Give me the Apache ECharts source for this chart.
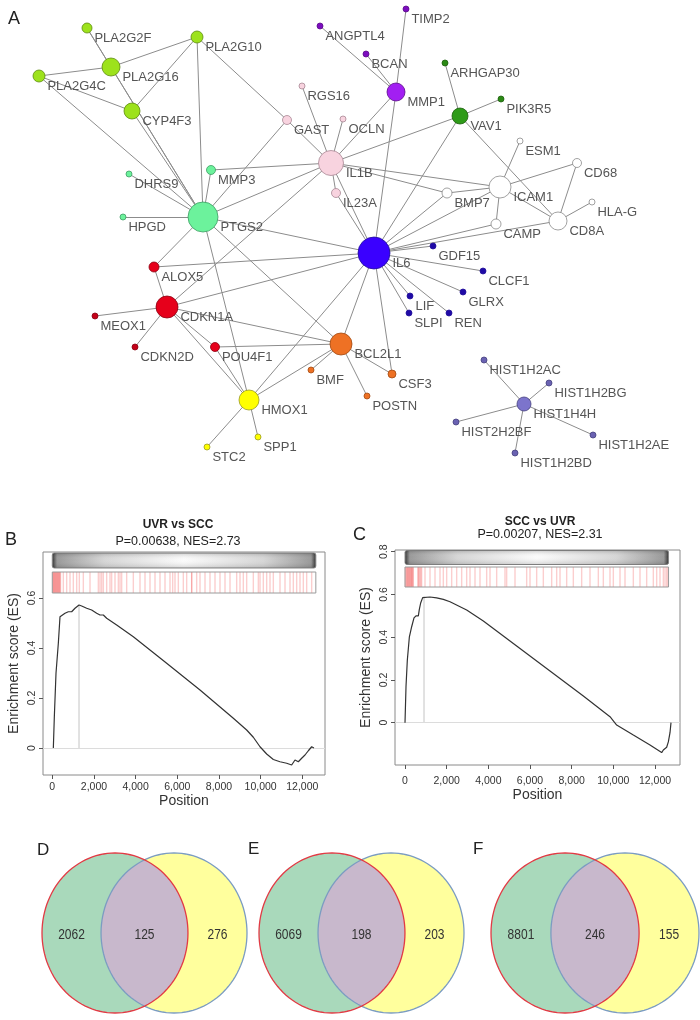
<!DOCTYPE html>
<html><head><meta charset="utf-8">
<script src="https://cdn.jsdelivr.net/npm/echarts@6/dist/echarts.min.js"></script>
<style>html,body{margin:0;padding:0;background:#fff}#c{width:700px;height:1020px}</style>
</head><body><div id="c"></div>
<script>
// ===== Panel A: network (node layout) =====
const nodeNames = ['PLA2G2F','PLA2G10','PLA2G16','PLA2G4C','CYP4F3','DHRS9','MMP3','HPGD','PTGS2',
 'RGS16','GAST','OCLN','IL1B','IL23A','TIMP2','ANGPTL4','BCAN','MMP1','ARHGAP30','PIK3R5','VAV1',
 'ESM1','CD68','ICAM1','BMP7','HLA-G','CD8A','CAMP','IL6','GDF15','CLCF1','GLRX','LIF','SLPI','REN',
 'ALOX5','CDKN1A','MEOX1','CDKN2D','POU4F1','BCL2L1','CSF3','POSTN','BMF','HMOX1','STC2','SPP1',
 'HIST1H4H','HIST1H2AC','HIST1H2BG','HIST2H2BF','HIST1H2AE','HIST1H2BD'];
const nodeX = [87,197,111,39,132,129,211,123,203, 302,287,343,331,336,406,320,366,396,445,501,460,
 520,577,500,447,592,558,496,374,433,483,463,410,409,449, 154,167,95,135,215,341,392,367,311,249,207,258,
 524,484,549,456,593,515];
const nodeY = [28,37,67,76,111,174,170,217,217, 86,120,119,163,193,9,26,54,92,63,99,116,
 141,163,187,193,202,221,224,253,246,271,292,296,313,313, 267,307,316,347,347,344,374,396,370,400,447,437,
 404,360,383,422,435,453];
const nodeSize = [10,12,18,12,16,6,9,6,30, 6,9,6,25,9,6,6,6,18,6,6,16,
 6,9,22,10,6,18,10,32,6,6,6,6,6,6, 10,22,6,6,9,22,8,6,6,20,6,6, 14,6,6,6,6,6];
const nodeModule = ['pla','pla','pla','pla','pla','ptg','ptg','ptg','ptg',
 'il1b','il1b','il1b','il1b','il1b','mmp','mmp','mmp','mmp','vav','vav','vav',
 'icam','icam','icam','icam','icam','icam','icam','il6','il6','il6','il6','il6','il6','il6',
 'cdk','cdk','cdk','cdk','cdk','bcl','bcl','bcl','bcl','hmox','hmox','hmox',
 'hist','hist','hist','hist','hist','hist'];
const edges = [
 ['PLA2G2F','PLA2G16'],['PLA2G2F','PTGS2'],['PLA2G16','PTGS2'],['PLA2G16','PLA2G10'],['PLA2G16','PLA2G4C'],
 ['CYP4F3','PTGS2'],['PLA2G10','CYP4F3'],['PLA2G4C','CYP4F3'],['PLA2G4C','PTGS2'],['PLA2G10','PTGS2'],
 ['PLA2G10','GAST'],['GAST','PTGS2'],['MMP3','IL1B'],['MMP3','PTGS2'],['GAST','IL1B'],['RGS16','IL1B'],
 ['OCLN','IL1B'],['IL1B','PTGS2'],['IL23A','IL1B'],['DHRS9','PTGS2'],['HPGD','PTGS2'],['PTGS2','IL6'],
 ['TIMP2','MMP1'],['ANGPTL4','MMP1'],['BCAN','MMP1'],['MMP1','IL1B'],['MMP1','IL6'],
 ['VAV1','IL1B'],['VAV1','ARHGAP30'],['VAV1','PIK3R5'],['VAV1','IL6'],['VAV1','CD8A'],
 ['ESM1','ICAM1'],['CD68','ICAM1'],['CD68','CD8A'],['HLA-G','CD8A'],['ICAM1','CD8A'],
 ['IL1B','ICAM1'],['IL1B','BMP7'],['BMP7','ICAM1'],['ICAM1','CAMP'],['CAMP','IL6'],['CD8A','IL6'],['ICAM1','IL6'],
 ['BMP7','IL6'],['IL1B','IL6'],['IL23A','IL6'],
 ['IL6','GDF15'],['IL6','CLCF1'],['IL6','GLRX'],['IL6','LIF'],['IL6','SLPI'],['IL6','REN'],
 ['IL6','BCL2L1'],['IL6','CSF3'],['BCL2L1','CSF3'],['BCL2L1','POSTN'],['BCL2L1','BMF'],
 ['HIST1H4H','HIST1H2AC'],['HIST1H4H','HIST1H2BG'],['HIST1H4H','HIST2H2BF'],['HIST1H4H','HIST1H2AE'],['HIST1H4H','HIST1H2BD'],
 ['PTGS2','ALOX5'],['ALOX5','IL6'],['ALOX5','CDKN1A'],['CDKN1A','IL6'],['CDKN1A','MEOX1'],['CDKN1A','CDKN2D'],
 ['CDKN1A','IL1B'],['PTGS2','HMOX1'],['PTGS2','BCL2L1'],['CDKN1A','BCL2L1'],['POU4F1','BCL2L1'],
 ['CDKN1A','POU4F1'],['CDKN1A','HMOX1'],['HMOX1','POU4F1'],['HMOX1','IL6'],['HMOX1','BCL2L1'],
 ['HMOX1','STC2'],['HMOX1','SPP1']
];

// ===== Panels B, C: running enrichment score =====
const posB = [50,98,178,290,370,450,610,770,850,930,1090,1282,1410,1650,1890,2130,2290,2450,2610,3090,3890,5490,7090,8690,9330,9650,9970,10290,10610,10930,11250,11490,11650,11810,11970,12130,12290,12450,12560];
const esB  = [0,0.125,0.299,0.419,0.525,0.532,0.539,0.545,0.552,0.545,0.559,0.572,0.568,0.559,0.552,0.539,0.532,0.532,0.519,0.492,0.445,0.339,0.232,0.119,0.072,0.043,0.005,-0.024,-0.046,-0.055,-0.061,-0.068,-0.048,-0.055,-0.041,-0.028,-0.011,0.005,0];
const hitsB = [20,45,70,95,120,145,170,195,220,245,270,295,320,345,370,395,
 530,690,850,1010,1170,1298,1490,1810,2210,2290,2370,2450,2610,2770,2850,3010,3170,3250,3330,3570,3890,4210,4450,4690,4930,5170,5410,5650,5778,5890,6050,6290,6450,6690,6690,6930,7090,7330,7570,7810,8050,8290,8530,8850,9010,9170,9330,9650,9890,9970,10130,10290,10450,10610,10930,11170,11410,11570,11730,11890,12050,12210,12450];
const posC = [0,48,112,208,320,432,528,640,688,752,848,912,1200,1520,1840,2160,2960,3760,5360,6960,8560,9840,10160,10960,11760,12320,12400,12480,12560,12640,12720,12768];
const esC  = [0,0.168,0.293,0.40,0.449,0.49,0.50,0.50,0.53,0.56,0.585,0.59,0.588,0.584,0.577,0.566,0.527,0.476,0.359,0.242,0.125,0.028,-0.011,-0.058,-0.104,-0.140,-0.128,-0.122,-0.115,-0.09,-0.047,0];
const hitsC = [20,48,80,110,140,160,190,220,240,270,300,320,350,380,400,
 620,640,680,720,760,800,960,1200,1440,1680,1840,2000,2240,2480,2720,2960,3120,3360,3600,3920,4080,4400,4800,4880,5280,5840,6000,6320,6640,7040,7280,7440,7760,8080,8480,8880,9280,9520,9840,10000,10320,10560,10960,11280,11600,11920,12080,12240,12400,12480,12560,12620];
const listLength = 12650;
const peakB = [1282, 0.572];
const peakC = [912, 0.59];
const titleB = ['UVR vs SCC', 'P=0.00638, NES=2.73'];
const titleC = ['SCC vs UVR', 'P=0.00207, NES=2.31'];
const xTicks = [0,2000,4000,6000,8000,10000,12000];
const yTicksB = [0,0.2,0.4,0.6];
const yTicksC = [0,0.2,0.4,0.6,0.8];

// ===== Panels D, E, F: Venn counts [left only, both, right only] =====
const vennLabels = ['D','E','F'];
const vennCounts = [[2062,125,276],[6069,198,203],[8801,246,155]];

// ---------------- styles ----------------
const moduleStyle = {
  pla:{fill:'#9de21c',stroke:'#5d8c0e'}, ptg:{fill:'#6cf29c',stroke:'#3e9d63'},
  il1b:{fill:'#f8d3df',stroke:'#a88894'}, mmp:{fill:'#a21ff2',leaf:'#7c0dbf',stroke:'#5a0a8a'},
  vav:{fill:'#2e9b18',leaf:'#2a8a14',stroke:'#1d5e0e'}, icam:{fill:'#ffffff',stroke:'#8a8a8a'},
  il6:{fill:'#3a00ff',leaf:'#1f0aa6',stroke:'#22109a'}, cdk:{fill:'#e6001b',leaf:'#c40018',stroke:'#8a0012'},
  bcl:{fill:'#ee7124',stroke:'#a24a12'}, hmox:{fill:'#ffff00',stroke:'#9a9a20'},
  hist:{fill:'#7c74cc',leaf:'#6a62b2',stroke:'#45407e'}
};
const SANS = "'Liberation Sans', Arial, sans-serif";

const graphNodes = nodeNames.map((n,i)=>{
  const s = moduleStyle[nodeModule[i]];
  const col = (s.leaf && nodeSize[i] <= 8) ? s.leaf : s.fill;
  return {name:n, value:[nodeX[i],nodeY[i]], symbolSize:nodeSize[i],
    itemStyle:{color:col,borderColor:s.stroke,borderWidth:0.8}};
});
const graphLinks = edges.map(e=>({source:e[0],target:e[1]}));

function barcodeSeries(grid, hits, top, h){
  return {type:'custom', xAxisIndex:grid, yAxisIndex:grid, silent:true, clip:false, z:3,
    data:hits.map(v=>[v]),
    renderItem:(params, api)=>{
      const cs = params.coordSys;
      const x = api.coord([api.value(0), 0])[0];
      return {type:'rect', shape:{x:x-0.7, y:cs.y+top, width:1.4, height:h},
        style:{fill:'rgba(236,30,30,0.22)'}};
    }};
}
function bandSeries(grid, gTop, gH, bTop, bH){
  return {type:'custom', xAxisIndex:grid, yAxisIndex:grid, silent:true, clip:false, z:4,
    data:[[0, listLength]],
    renderItem:(params, api)=>{
      const cs = params.coordSys;
      const x0 = api.coord([api.value(0),0])[0], x1 = api.coord([api.value(1),0])[0];
      return {type:'group', children:[
        {type:'rect', shape:{x:x0, y:cs.y+gTop, width:x1-x0, height:gH, r:2},
          style:{fill:new echarts.graphic.LinearGradient(0,0,1,0,[
            {offset:0,color:'#222'},{offset:0.008,color:'#555'},{offset:0.02,color:'#999'},
            {offset:0.2,color:'#d6d6d6'},{offset:0.5,color:'#fbfbfb'},{offset:0.8,color:'#d6d6d6'},
            {offset:0.98,color:'#999'},{offset:0.992,color:'#555'},{offset:1,color:'#222'}]),
            stroke:'#888', lineWidth:1}},
        {type:'rect', shape:{x:x0, y:cs.y+gTop, width:x1-x0, height:gH, r:2},
          style:{fill:new echarts.graphic.LinearGradient(0,0,0,1,[
            {offset:0,color:'rgba(0,0,0,0.18)'},{offset:0.45,color:'rgba(255,255,255,0)'},
            {offset:1,color:'rgba(0,0,0,0.15)'}])}},
        {type:'rect', shape:{x:x0, y:cs.y+bTop, width:x1-x0, height:bH},
          style:{fill:'none', stroke:'#9a9a9a', lineWidth:1}}
      ]};
    }};
}
function gseaAxes(grid, min, max, ymin, ymax, yt, labMargin, nameGap){
  return {
    x:{gridIndex:grid, type:'value', min:min, max:max,
      axisLine:{show:false, onZero:false}, splitLine:{show:false},
      axisTick:{show:true, length:4, customValues:xTicks, lineStyle:{color:'#555'}},
      axisLabel:{customValues:xTicks, color:'#333', fontSize:10.5, margin:labMargin, fontFamily:SANS,
        formatter:v=>Number(v).toLocaleString('en-US')},
      name:'Position', nameLocation:'middle', nameGap:nameGap,
      nameTextStyle:{fontSize:14, color:'#333', fontFamily:SANS}},
    y:{gridIndex:grid, type:'value', min:ymin, max:ymax,
      axisLine:{show:false, onZero:false}, splitLine:{show:false},
      axisTick:{show:true, length:4, customValues:yt, lineStyle:{color:'#555'}},
      axisLabel:{customValues:yt, color:'#333', fontSize:10.5, margin:5, rotate:90, fontFamily:SANS,
        formatter:v=>String(Math.round(v*10)/10)},
      name:'Enrichment score (ES)', nameLocation:'middle', nameGap:22,
      nameTextStyle:{fontSize:14, color:'#333', fontFamily:SANS}}
  };
}
const axB = gseaAxes(1, -446, 13090, -0.108, 0.784, yTicksB, 7, 19);
const axC = gseaAxes(2, -480, 13200, -0.198, 0.808, yTicksC, 11, 22);

function vennRender(params, api){
  const cs = params.coordSys;
  const rx = cs.width*0.356, ry = cs.height/2, cy = cs.y + ry;
  const cxL = cs.x + rx, cxR = cs.x + cs.width - rx;
  const N = 120;
  const ell = (cx)=>{const p=[];for(let k=0;k<N;k++){const t=2*Math.PI*k/N;p.push([cx+rx*Math.cos(t),cy+ry*Math.sin(t)]);}return p;};
  const t0 = Math.acos(((cxR-cxL)/2)/rx);
  const lens = [];
  for(let k=0;k<=60;k++){const t=-t0+2*t0*k/60;lens.push([cxL+rx*Math.cos(t),cy+ry*Math.sin(t)]);}
  for(let k=0;k<=60;k++){const t=Math.PI-t0+2*t0*k/60;lens.push([cxR+rx*Math.cos(t),cy+ry*Math.sin(t)]);}
  const tf = {fill:'#333', font:"15px "+SANS, align:'center', verticalAlign:'middle', textAlign:'center', textVerticalAlign:'middle'};
  const t = (x, v)=>({type:'text', x:x, y:cy+2, scaleX:0.8, style:Object.assign({text:String(v)},tf)});
  return {type:'group', children:[
    {type:'polygon', shape:{points:ell(cxL)}, style:{fill:'#a9d9bb'}},
    {type:'polygon', shape:{points:ell(cxR)}, style:{fill:'#ffff9d'}},
    {type:'polygon', shape:{points:lens}, style:{fill:'#c8b8cc'}},
    {type:'polygon', shape:{points:ell(cxR)}, style:{fill:'none', stroke:'#7b9cc2', lineWidth:1.3}},
    {type:'polygon', shape:{points:ell(cxL)}, style:{fill:'none', stroke:'#e23a44', lineWidth:1.3}},
    t((cs.x + cxR - rx)/2, api.value(0)),
    t((cxL+cxR)/2, api.value(1)),
    t((cxL + rx + cs.x + cs.width)/2, api.value(2))
  ]};
}
const vennGrids = [{left:42,top:853,width:205,height:160},{left:259,top:853,width:205,height:160},{left:491,top:853,width:208,height:160}];

function txt(x,y,t,font,align){return {type:'text', x:x, y:y, silent:true,
  style:{text:t, font:font, fill:'#222', align:align||'left', verticalAlign:'middle', textAlign:align||'left', textVerticalAlign:'middle'}};}

const chart = echarts.init(document.getElementById('c'), null, {renderer:'canvas'});
chart.setOption({
  animation:false,
  grid:[
    {left:0, top:0, width:700, height:480},
    {left:43, top:552, width:282, height:223, show:true, borderColor:'#8a8a8a', borderWidth:1},
    {left:395, top:550, width:285, height:215, show:true, borderColor:'#8a8a8a', borderWidth:1}
  ].concat(vennGrids),
  xAxis:[{gridIndex:0,type:'value',min:0,max:700,show:false}, axB.x, axC.x].concat(
    vennGrids.map((g,i)=>({gridIndex:3+i,type:'category',data:[vennLabels[i]],show:false}))),
  yAxis:[{gridIndex:0,type:'value',min:0,max:480,inverse:true,show:false}, axB.y, axC.y].concat(
    vennGrids.map((g,i)=>({gridIndex:3+i,type:'value',min:0,max:1,show:false}))),
  graphic:[
    txt(8,19,'A','18px '+SANS), txt(5,540,'B','18px '+SANS), txt(353,535,'C','18px '+SANS),
    txt(37,850,'D','17px '+SANS), txt(248,849,'E','17px '+SANS), txt(473,849,'F','17px '+SANS),
    txt(178,525,titleB[0],'bold 12px '+SANS,'center'), txt(178,542,titleB[1],'12.5px '+SANS,'center'),
    txt(540,522,titleC[0],'bold 12px '+SANS,'center'), txt(540,535,titleC[1],'12.5px '+SANS,'center')
  ],
  series:[
    {type:'graph', coordinateSystem:'cartesian2d', xAxisIndex:0, yAxisIndex:0, silent:true,
      data:graphNodes, links:graphLinks, symbol:'circle',
      lineStyle:{color:'#8c8c8c', width:1, opacity:1, curveness:0},
      label:{show:true, position:'right', distance:2, offset:[0,10], color:'#555', fontSize:13, fontFamily:SANS, formatter:'{b}'},
      emphasis:{disabled:true}},
    // B
    {type:'line', xAxisIndex:1, yAxisIndex:1, data:posB.map((p,i)=>[p,esB[i]]), showSymbol:false, silent:true,
      lineStyle:{color:'#333', width:1.2}, z:5,
      markLine:{silent:true, symbol:'none', label:{show:false}, lineStyle:{color:'#dcdcdc', width:1, type:'solid'}, data:[{yAxis:0}]}},
    {type:'line', xAxisIndex:1, yAxisIndex:1, data:[[peakB[0],0],[peakB[0],peakB[1]]], showSymbol:false, silent:true,
      lineStyle:{color:'#c4c4c4', width:1}, z:2},
    barcodeSeries(1, hitsB, 20, 21),
    bandSeries(1, 1, 15, 20, 21),
    // C
    {type:'line', xAxisIndex:2, yAxisIndex:2, data:posC.map((p,i)=>[p,esC[i]]), showSymbol:false, silent:true,
      lineStyle:{color:'#333', width:1.2}, z:5,
      markLine:{silent:true, symbol:'none', label:{show:false}, lineStyle:{color:'#dcdcdc', width:1, type:'solid'}, data:[{yAxis:0}]}},
    {type:'line', xAxisIndex:2, yAxisIndex:2, data:[[peakC[0],0],[peakC[0],peakC[1]]], showSymbol:false, silent:true,
      lineStyle:{color:'#c4c4c4', width:1}, z:2},
    barcodeSeries(2, hitsC, 17, 20),
    bandSeries(2, 0.5, 14, 17, 20)
  ].concat(vennCounts.map((c,i)=>({type:'custom', xAxisIndex:3+i, yAxisIndex:3+i, silent:true, clip:false,
      data:[c], renderItem:vennRender})))
});
</script></body></html>
